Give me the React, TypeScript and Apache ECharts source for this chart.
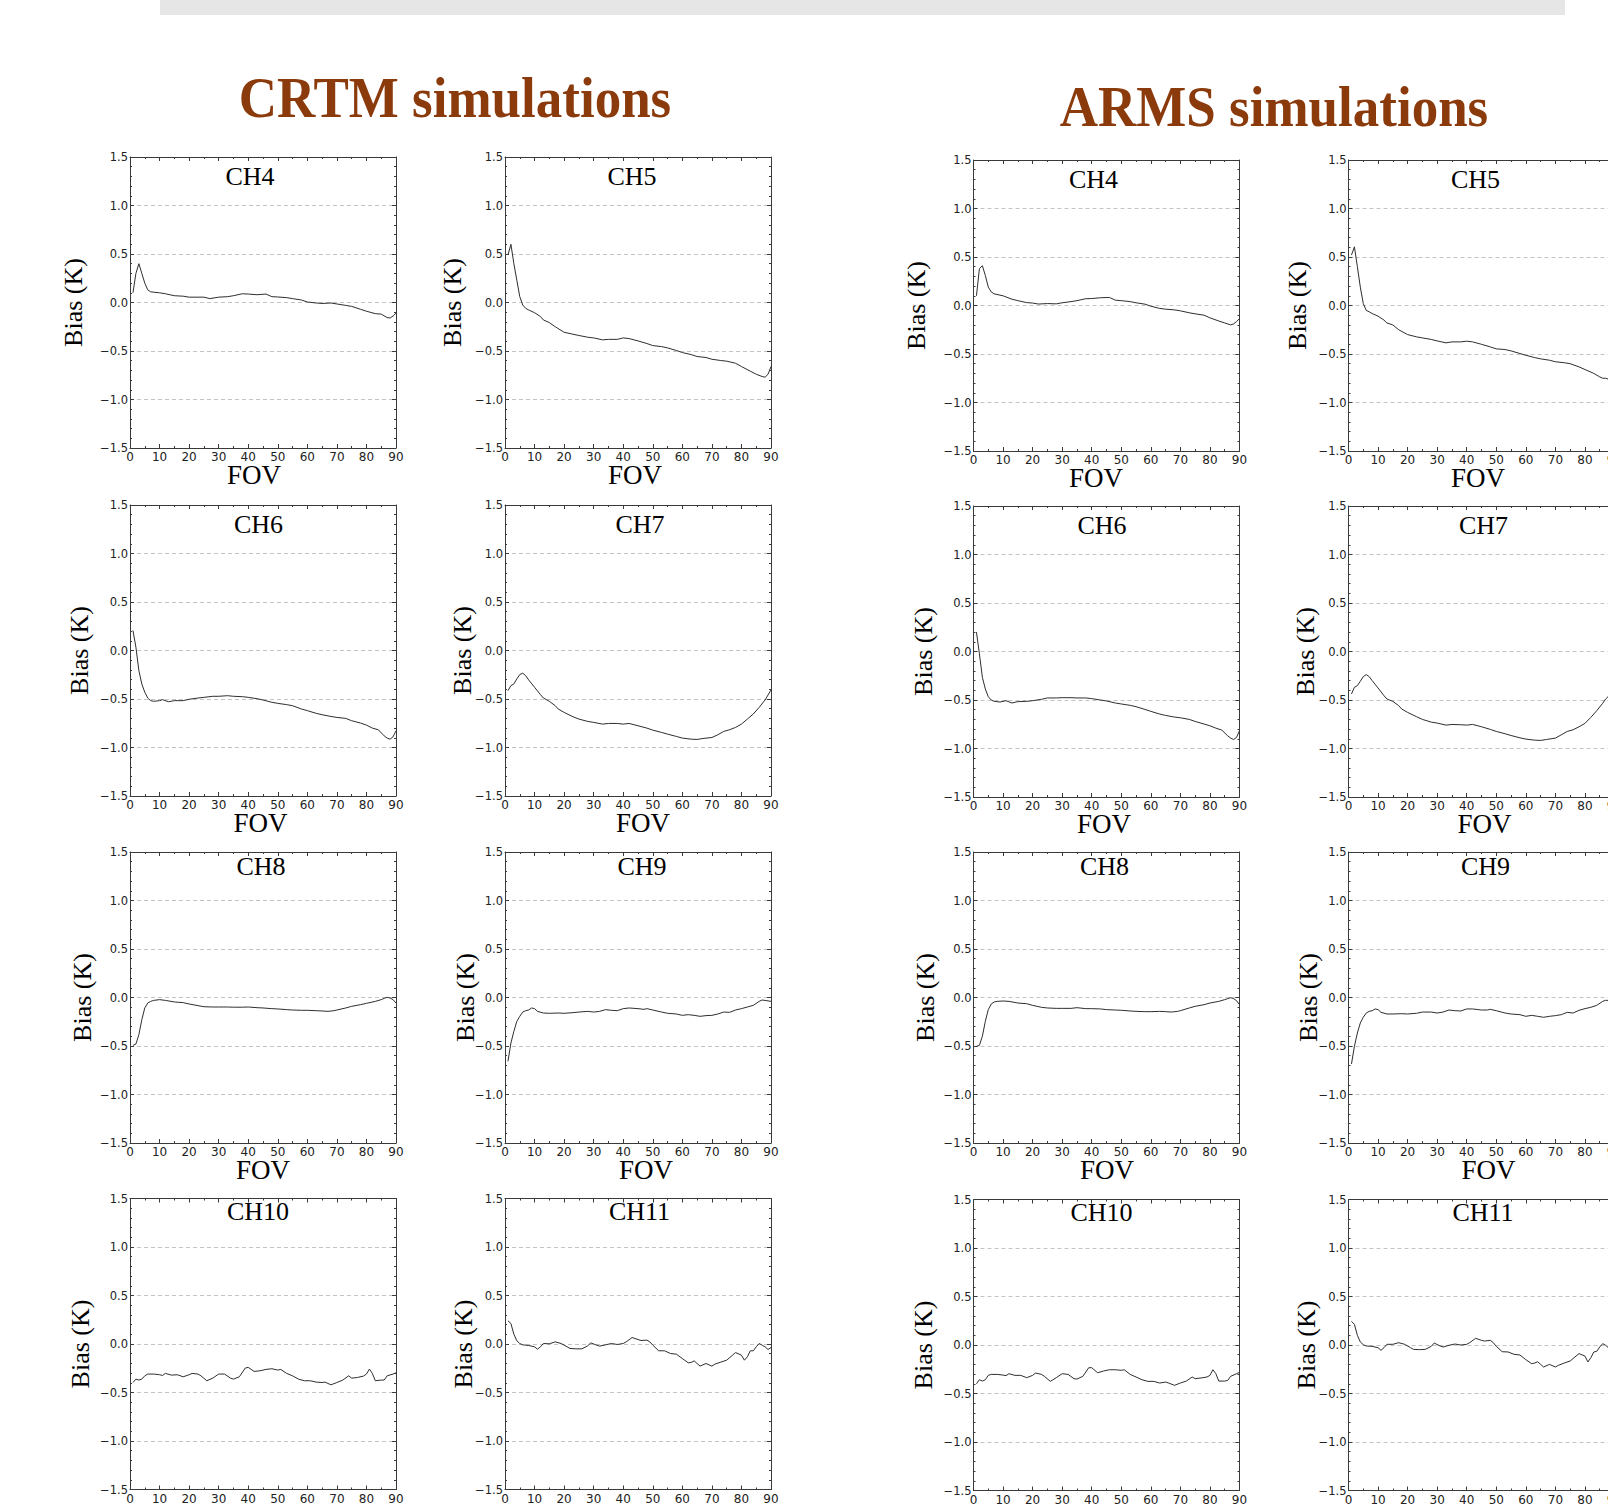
import React, { useEffect, useRef } from 'react';
import * as echarts from 'echarts';

// ---------------- data (FOV, bias K) ----------------
const crtmCH4 = [[1,0.10],[2,0.30],[3,0.40],[4,0.30],[5,0.20],[6,0.13],[7,0.11],[10,0.10],[12,0.09],[15,0.07],[18,0.065],[20,0.055],[25,0.055],[27,0.04],[30,0.055],[33,0.06],[35,0.07],[38,0.09],[40,0.087],[43,0.08],[46,0.087],[48,0.06],[50,0.057],[53,0.05],[55,0.04],[58,0.026],[60,0.005],[63,-0.005],[65,-0.01],[68,-0.005],[70,-0.015],[73,-0.03],[75,-0.04],[78,-0.07],[80,-0.09],[83,-0.115],[85,-0.12],[87,-0.155],[88,-0.16],[89,-0.14],[90,-0.11]];
const crtmCH5 = [[1,0.49],[2,0.60],[3,0.40],[4,0.23],[5,0.06],[6,-0.026],[7,-0.06],[8,-0.077],[10,-0.105],[12,-0.145],[13,-0.18],[15,-0.207],[17,-0.25],[20,-0.307],[23,-0.327],[25,-0.34],[28,-0.358],[30,-0.365],[33,-0.385],[35,-0.38],[38,-0.38],[40,-0.365],[42,-0.372],[45,-0.396],[48,-0.423],[50,-0.444],[53,-0.455],[55,-0.468],[58,-0.495],[60,-0.516],[63,-0.537],[65,-0.557],[68,-0.567],[70,-0.585],[73,-0.598],[75,-0.605],[78,-0.626],[80,-0.66],[83,-0.708],[85,-0.74],[87,-0.763],[88,-0.77],[89,-0.74],[90,-0.66]];
const crtmCH6 = [[1,0.207],[2,0.034],[3,-0.207],[4,-0.345],[5,-0.43],[6,-0.49],[7,-0.517],[8,-0.524],[10,-0.517],[11,-0.507],[13,-0.528],[15,-0.517],[18,-0.517],[20,-0.503],[23,-0.49],[25,-0.483],[28,-0.472],[30,-0.472],[33,-0.466],[35,-0.472],[38,-0.476],[40,-0.483],[43,-0.497],[45,-0.51],[48,-0.534],[50,-0.545],[53,-0.558],[55,-0.569],[58,-0.603],[60,-0.62],[63,-0.648],[65,-0.662],[68,-0.68],[70,-0.69],[73,-0.7],[75,-0.724],[78,-0.748],[80,-0.769],[82,-0.8],[84,-0.817],[86,-0.88],[87,-0.903],[88,-0.914],[89,-0.89],[90,-0.828]];
const crtmCH7 = [[1,-0.414],[2,-0.362],[3,-0.345],[4,-0.293],[5,-0.248],[6,-0.234],[7,-0.259],[8,-0.303],[10,-0.379],[12,-0.455],[13,-0.49],[15,-0.524],[17,-0.569],[18,-0.603],[20,-0.638],[23,-0.683],[25,-0.707],[28,-0.731],[30,-0.741],[33,-0.759],[35,-0.752],[38,-0.752],[40,-0.759],[42,-0.752],[45,-0.776],[48,-0.8],[50,-0.821],[53,-0.845],[55,-0.862],[58,-0.886],[60,-0.903],[63,-0.914],[65,-0.917],[67,-0.907],[70,-0.897],[72,-0.869],[74,-0.834],[76,-0.817],[78,-0.793],[80,-0.759],[82,-0.707],[84,-0.655],[86,-0.586],[88,-0.51],[90,-0.407]];
const crtmCH8 = [[1,-0.493],[2,-0.48],[3,-0.383],[4,-0.229],[5,-0.108],[6,-0.057],[7,-0.04],[8,-0.03],[10,-0.022],[12,-0.03],[15,-0.046],[18,-0.053],[20,-0.067],[23,-0.084],[25,-0.095],[28,-0.098],[30,-0.098],[33,-0.098],[35,-0.1],[38,-0.1],[40,-0.098],[43,-0.105],[45,-0.108],[48,-0.115],[50,-0.118],[53,-0.125],[55,-0.129],[58,-0.132],[60,-0.132],[63,-0.136],[65,-0.139],[67,-0.143],[69,-0.136],[70,-0.129],[73,-0.108],[75,-0.091],[78,-0.074],[80,-0.06],[83,-0.04],[85,-0.022],[86,-0.009],[87,0.002],[88,-0.005],[89,-0.022],[90,-0.057]];
const crtmCH9 = [[1,-0.658],[2,-0.469],[3,-0.349],[4,-0.246],[5,-0.194],[6,-0.15],[7,-0.136],[8,-0.129],[9,-0.108],[10,-0.115],[11,-0.143],[13,-0.16],[15,-0.163],[18,-0.16],[20,-0.163],[23,-0.156],[25,-0.15],[28,-0.143],[30,-0.15],[32,-0.143],[34,-0.125],[36,-0.132],[38,-0.136],[40,-0.115],[42,-0.108],[45,-0.115],[47,-0.122],[48,-0.115],[50,-0.129],[53,-0.15],[55,-0.163],[58,-0.17],[60,-0.184],[62,-0.177],[64,-0.184],[66,-0.194],[68,-0.187],[70,-0.184],[72,-0.17],[74,-0.15],[76,-0.153],[78,-0.129],[80,-0.115],[82,-0.098],[84,-0.081],[86,-0.04],[87,-0.026],[88,-0.03],[90,-0.04]];
const crtmCH10 = [[1,-0.397],[2,-0.362],[3,-0.372],[4,-0.362],[5,-0.328],[6,-0.31],[8,-0.31],[10,-0.317],[11,-0.324],[12,-0.303],[14,-0.321],[16,-0.317],[18,-0.338],[20,-0.317],[21,-0.303],[23,-0.31],[24,-0.328],[26,-0.379],[28,-0.352],[30,-0.31],[32,-0.31],[34,-0.352],[35,-0.362],[37,-0.338],[39,-0.248],[40,-0.241],[42,-0.283],[44,-0.276],[46,-0.262],[48,-0.255],[50,-0.269],[51,-0.262],[53,-0.303],[55,-0.328],[57,-0.362],[59,-0.379],[61,-0.379],[63,-0.393],[65,-0.397],[66,-0.393],[68,-0.421],[70,-0.397],[72,-0.372],[74,-0.328],[75,-0.352],[77,-0.345],[79,-0.331],[80,-0.31],[81,-0.259],[82,-0.303],[83,-0.379],[85,-0.372],[86,-0.372],[87,-0.328],[89,-0.31],[90,-0.297]];
const crtmCH11 = [[1,0.239],[2,0.211],[3,0.101],[4,0.033],[5,0.005],[6,-0.009],[8,-0.015],[10,-0.029],[11,-0.053],[12,-0.029],[13,0.005],[15,0.002],[17,0.022],[19,0.005],[21,-0.029],[22,-0.046],[24,-0.05],[26,-0.05],[28,-0.019],[29,0.012],[31,-0.012],[32,-0.022],[34,-0.009],[36,0.005],[38,-0.005],[40,0.005],[41,0.022],[43,0.067],[45,0.046],[46,0.036],[48,0.04],[49,0.022],[50,-0.012],[52,-0.07],[54,-0.07],[56,-0.098],[58,-0.105],[60,-0.15],[62,-0.194],[63,-0.19],[64,-0.174],[65,-0.201],[66,-0.228],[68,-0.201],[70,-0.228],[71,-0.208],[73,-0.187],[75,-0.167],[77,-0.115],[78,-0.088],[80,-0.115],[81,-0.167],[82,-0.132],[83,-0.07],[84,-0.07],[85,-0.029],[86,0.005],[87,-0.012],[88,-0.029],[89,-0.057],[90,-0.036]];

const armsCH4 = [[1,0.10],[2,0.38],[3,0.41],[4,0.31],[5,0.19],[6,0.14],[7,0.12],[10,0.10],[13,0.065],[15,0.05],[18,0.03],[20,0.025],[22,0.015],[25,0.02],[28,0.017],[30,0.028],[33,0.04],[35,0.05],[38,0.07],[40,0.072],[43,0.08],[46,0.083],[48,0.055],[50,0.05],[53,0.04],[55,0.028],[58,0.014],[60,-0.007],[63,-0.03],[65,-0.038],[68,-0.045],[70,-0.055],[73,-0.075],[75,-0.086],[78,-0.1],[80,-0.127],[83,-0.16],[85,-0.18],[87,-0.2],[88,-0.19],[89,-0.165],[90,-0.135]];
const armsCH5 = [[1,0.52],[2,0.605],[3,0.40],[4,0.19],[5,0.02],[6,-0.05],[7,-0.065],[8,-0.083],[10,-0.11],[12,-0.15],[13,-0.18],[15,-0.2],[17,-0.25],[20,-0.3],[23,-0.323],[25,-0.334],[28,-0.35],[30,-0.365],[33,-0.385],[35,-0.375],[38,-0.375],[40,-0.368],[42,-0.375],[45,-0.4],[48,-0.427],[50,-0.447],[53,-0.454],[55,-0.468],[58,-0.495],[60,-0.513],[63,-0.537],[65,-0.55],[68,-0.564],[70,-0.58],[73,-0.59],[75,-0.6],[78,-0.633],[80,-0.66],[83,-0.7],[85,-0.736],[86,-0.75],[87,-0.75],[88,-0.76]];
const armsCH6 = [[1,0.2],[2,-0.024],[3,-0.266],[4,-0.386],[5,-0.466],[6,-0.5],[7,-0.514],[9,-0.521],[11,-0.507],[13,-0.531],[15,-0.517],[18,-0.514],[20,-0.507],[23,-0.493],[25,-0.479],[28,-0.479],[30,-0.476],[33,-0.476],[35,-0.479],[38,-0.479],[40,-0.486],[43,-0.5],[45,-0.51],[48,-0.531],[50,-0.541],[53,-0.555],[55,-0.569],[58,-0.597],[60,-0.617],[63,-0.645],[65,-0.659],[68,-0.676],[70,-0.683],[73,-0.7],[75,-0.721],[78,-0.748],[80,-0.766],[82,-0.79],[84,-0.81],[86,-0.869],[87,-0.893],[88,-0.907],[89,-0.886],[90,-0.817]];
const armsCH7 = [[1,-0.438],[2,-0.369],[3,-0.352],[4,-0.307],[5,-0.259],[6,-0.238],[7,-0.259],[8,-0.3],[10,-0.376],[12,-0.455],[13,-0.49],[15,-0.514],[17,-0.559],[18,-0.593],[20,-0.628],[23,-0.672],[25,-0.7],[28,-0.728],[30,-0.738],[33,-0.759],[35,-0.752],[38,-0.755],[40,-0.759],[42,-0.752],[45,-0.776],[48,-0.803],[50,-0.824],[53,-0.848],[55,-0.866],[58,-0.89],[60,-0.903],[63,-0.914],[65,-0.917],[67,-0.907],[70,-0.893],[72,-0.859],[74,-0.824],[76,-0.807],[78,-0.776],[80,-0.741],[82,-0.679],[84,-0.61],[86,-0.534],[87,-0.49],[88,-0.46]];
const armsCH8 = [[1,-0.503],[2,-0.493],[3,-0.4],[4,-0.246],[5,-0.125],[6,-0.067],[7,-0.046],[8,-0.04],[10,-0.036],[12,-0.04],[15,-0.057],[18,-0.064],[20,-0.081],[23,-0.101],[25,-0.108],[28,-0.112],[30,-0.112],[33,-0.112],[35,-0.105],[38,-0.115],[40,-0.115],[43,-0.118],[45,-0.125],[48,-0.129],[50,-0.132],[53,-0.139],[55,-0.143],[58,-0.146],[60,-0.146],[63,-0.143],[65,-0.146],[67,-0.15],[69,-0.143],[70,-0.136],[73,-0.108],[75,-0.091],[78,-0.074],[80,-0.057],[83,-0.04],[85,-0.022],[86,-0.012],[87,-0.002],[88,-0.012],[89,-0.033],[90,-0.074]];
const armsCH9 = [[1,-0.686],[2,-0.503],[3,-0.366],[4,-0.263],[5,-0.204],[6,-0.16],[7,-0.143],[8,-0.136],[9,-0.118],[10,-0.125],[11,-0.153],[13,-0.17],[15,-0.17],[18,-0.167],[20,-0.17],[23,-0.163],[25,-0.15],[28,-0.15],[30,-0.16],[32,-0.15],[34,-0.129],[36,-0.136],[38,-0.139],[40,-0.118],[42,-0.118],[45,-0.129],[47,-0.129],[48,-0.122],[50,-0.136],[53,-0.16],[55,-0.17],[58,-0.177],[60,-0.194],[62,-0.184],[64,-0.194],[66,-0.204],[68,-0.194],[70,-0.187],[72,-0.177],[74,-0.153],[76,-0.16],[78,-0.132],[80,-0.115],[82,-0.101],[84,-0.081],[86,-0.04],[87,-0.029],[88,-0.03]];
const armsCH10 = [[1,-0.4],[2,-0.358],[3,-0.372],[4,-0.358],[5,-0.313],[6,-0.303],[8,-0.303],[10,-0.31],[11,-0.316],[12,-0.296],[14,-0.313],[16,-0.313],[18,-0.337],[20,-0.313],[21,-0.289],[23,-0.303],[24,-0.323],[26,-0.375],[28,-0.337],[30,-0.296],[32,-0.303],[34,-0.347],[35,-0.351],[37,-0.323],[39,-0.234],[40,-0.234],[42,-0.286],[44,-0.268],[46,-0.255],[48,-0.255],[50,-0.261],[51,-0.255],[53,-0.303],[55,-0.33],[57,-0.358],[59,-0.375],[61,-0.375],[63,-0.392],[65,-0.382],[66,-0.392],[68,-0.416],[70,-0.392],[72,-0.372],[74,-0.33],[75,-0.347],[77,-0.34],[79,-0.33],[80,-0.313],[81,-0.255],[82,-0.296],[83,-0.372],[85,-0.372],[86,-0.365],[87,-0.323],[89,-0.296],[90,-0.282]];
const armsCH11 = [[1,0.244],[2,0.213],[3,0.1],[4,0.031],[5,0.003],[6,-0.01],[8,-0.014],[10,-0.028],[11,-0.055],[12,-0.028],[13,0.007],[15,0.007],[17,0.024],[19,0.007],[21,-0.028],[22,-0.045],[24,-0.048],[26,-0.045],[28,-0.014],[29,0.02],[31,-0.01],[32,-0.021],[34,-0.003],[36,0.01],[38,0],[40,0.007],[41,0.024],[43,0.069],[45,0.048],[46,0.041],[48,0.048],[49,0.024],[50,-0.014],[52,-0.069],[54,-0.072],[56,-0.096],[58,-0.103],[60,-0.151],[62,-0.193],[63,-0.186],[64,-0.172],[65,-0.2],[66,-0.227],[68,-0.2],[70,-0.227],[71,-0.21],[73,-0.186],[75,-0.165],[77,-0.114],[78,-0.089],[80,-0.114],[81,-0.175],[82,-0.131],[83,-0.072],[84,-0.065],[85,-0.021],[86,0.014],[87,-0.003],[88,-0.03]];

const channels = ['CH4', 'CH5', 'CH6', 'CH7', 'CH8', 'CH9', 'CH10', 'CH11'];
const crtmSeries = [crtmCH4, crtmCH5, crtmCH6, crtmCH7, crtmCH8, crtmCH9, crtmCH10, crtmCH11];
const armsSeries = [armsCH4, armsCH5, armsCH6, armsCH7, armsCH8, armsCH9, armsCH10, armsCH11];
const xTickMin = 0, xTickMax = 90, xTickStep = 10;
const yTickMin = -1.5, yTickMax = 1.5, yTickStep = 0.5;

// ---------------- layout ----------------
const COL_LEFT = [130, 505, 973.5, 1348.5];
const PLOT_W = 266;
const PLOT_H = 291;
const CRTM_TOP = [157, 505, 852, 1198.5];
const ARMS_TOP = [160, 506, 852, 1199.5];
const TITLE_DX = [120, 127, 128.5, 135, 131, 137, 128, 134.5];
const TITLE_DY = [19.5, 19.5, 14.5, 13];
const FOV_DX = [
  [124, 130, 122.5, 129.5],
  [130.5, 138, 130.5, 136],
  [133, 141, 133.6, 140],
];
const BIAS_DX = [
  [-57, -53, -57, -51],
  [-50.5, -42.5, -50.5, -43],
  [-48, -39.5, -47.7, -40.5],
  [-50, -42, -50, -42.5],
];

const AXIS_COLOR = '#3a3a3a';
const SERIF = '"Liberation Serif", "Times New Roman", serif';
const SANS = '"DejaVu Sans", sans-serif';

function fmtY(v: number) {
  const s = Math.abs(v).toFixed(1);
  return v < -1e-9 ? '\u2212' + s : s;
}

function buildOption() {
  const grid: any[] = [];
  const xAxis: any[] = [];
  const yAxis: any[] = [];
  const series: any[] = [];
  const graphic: any[] = [
    { type: 'rect', shape: { x: 160, y: 0, width: 1405, height: 15 }, style: { fill: '#e6e6e6' }, silent: true },
    {
      type: 'text', x: 455, y: 98, scaleX: 0.93,
      style: { text: 'CRTM simulations', fontSize: 57, fontWeight: 'bold', fontFamily: SERIF, fill: '#8b3a0c', align: 'center', verticalAlign: 'middle' },
    },
    {
      type: 'text', x: 1274, y: 106.5, scaleX: 0.93,
      style: { text: 'ARMS simulations', fontSize: 57, fontWeight: 'bold', fontFamily: SERIF, fill: '#8b3a0c', align: 'center', verticalAlign: 'middle' },
    },
  ];

  const panels: any[] = [];
  ['crtm', 'arms'].forEach((model) => {
    channels.forEach((ch, ci) => {
      const row = Math.floor(ci / 2);
      const col = (ci % 2) + (model === 'arms' ? 2 : 0);
      panels.push({
        ch, ci, row, col,
        left: COL_LEFT[col],
        top: model === 'crtm' ? CRTM_TOP[row] : ARMS_TOP[row],
        data: model === 'crtm' ? crtmSeries[ci] : armsSeries[ci],
      });
    });
  });

  const tickBase = {
    axisLine: { show: true, onZero: false, lineStyle: { color: AXIS_COLOR, width: 1 } },
    axisTick: { show: true, inside: true, length: 4, lineStyle: { color: AXIS_COLOR, width: 1 } },
  };

  panels.forEach((p, i) => {
    grid.push({ left: p.left, top: p.top, width: PLOT_W, height: PLOT_H, containLabel: false, outerBoundsMode: 'none' });
    xAxis.push({
      gridIndex: i, type: 'value', position: 'bottom', min: xTickMin, max: xTickMax, interval: xTickStep,
      ...tickBase,
      minorTick: { show: true, splitNumber: 2, length: 2, lineStyle: { color: AXIS_COLOR } },
      axisLabel: { show: true, margin: 3, fontSize: 12, fontFamily: SANS, color: '#222' },
      splitLine: { show: false },
    });
    xAxis.push({
      gridIndex: i, type: 'value', position: 'top', min: xTickMin, max: xTickMax, interval: xTickStep,
      ...tickBase,
      minorTick: { show: true, splitNumber: 2, length: 2, lineStyle: { color: AXIS_COLOR } },
      axisLabel: { show: false },
      splitLine: { show: false },
    });
    yAxis.push({
      gridIndex: i, type: 'value', position: 'left', min: yTickMin, max: yTickMax, interval: yTickStep,
      ...tickBase,
      minorTick: { show: true, splitNumber: 5, length: 2, lineStyle: { color: AXIS_COLOR } },
      axisLabel: { show: true, margin: 2, fontSize: 11.5, fontFamily: SANS, color: '#222', formatter: fmtY },
      splitLine: { show: true, lineStyle: { type: [4, 3], color: '#c4c4c4', width: 1 } },
    });
    yAxis.push({
      gridIndex: i, type: 'value', position: 'right', min: yTickMin, max: yTickMax, interval: yTickStep,
      ...tickBase,
      minorTick: { show: true, splitNumber: 5, length: 2, lineStyle: { color: AXIS_COLOR } },
      axisLabel: { show: false },
      splitLine: { show: false },
    });
    series.push({
      type: 'line', xAxisIndex: 2 * i, yAxisIndex: 2 * i, data: p.data,
      showSymbol: false, symbol: 'none', silent: true, clip: true,
      lineStyle: { color: '#2e2e2e', width: 1 },
    });

    graphic.push({
      type: 'text', x: p.left + TITLE_DX[p.ci], y: p.top + TITLE_DY[p.row], silent: true,
      style: { text: p.ch, fontSize: 26, fontFamily: SERIF, fill: '#000', align: 'center', verticalAlign: 'middle' },
    });
    graphic.push({
      type: 'text', x: p.left + BIAS_DX[p.row][p.col], y: p.top + PLOT_H / 2, rotation: Math.PI / 2, silent: true,
      style: { text: 'Bias (K)', fontSize: 26, fontFamily: SERIF, fill: '#000', align: 'center', verticalAlign: 'middle' },
    });
    if (p.row < 3) {
      graphic.push({
        type: 'text', x: p.left + FOV_DX[p.row][p.col], y: p.top + PLOT_H + 26.5, silent: true,
        style: { text: 'FOV', fontSize: 27, fontFamily: SERIF, fill: '#000', align: 'center', verticalAlign: 'middle' },
      });
    }
  });

  return {
    animation: false,
    backgroundColor: '#ffffff',
    grid, xAxis, yAxis, series, graphic,
  };
}

export default function App() {
  const ref = useRef<HTMLDivElement>(null);
  useEffect(() => {
    if (!ref.current) return;
    const chart = echarts.init(ref.current, null, { renderer: 'svg' });
    chart.setOption(buildOption());
    return () => chart.dispose();
  }, []);
  return (
    <div
      ref={ref}
      style={{ position: 'absolute', left: 0, top: 0, width: 1608, height: 1504, background: '#fff' }}
    />
  );
}
